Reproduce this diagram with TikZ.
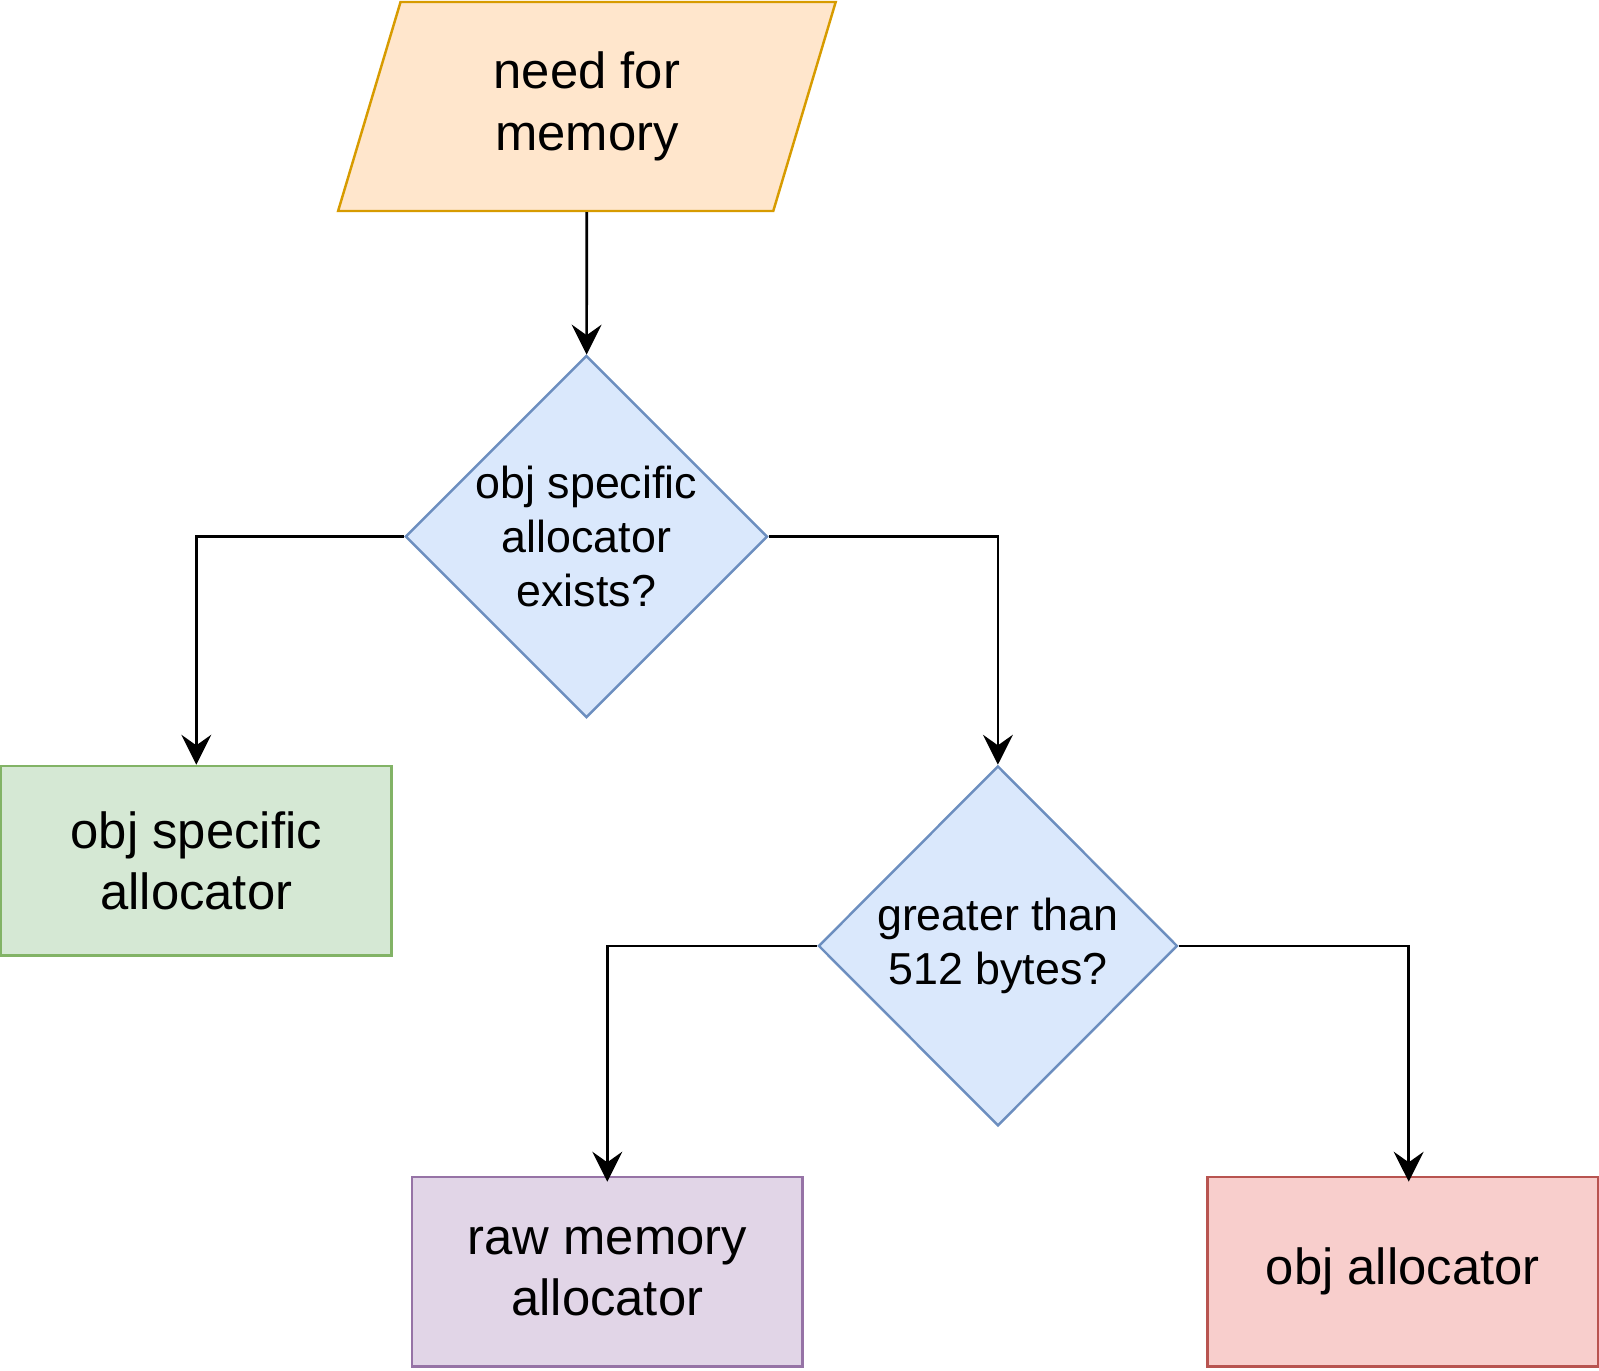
\documentclass[tikz,border=0pt]{standalone}
\usepackage{fontspec}
\setmainfont{Liberation Sans}
\usetikzlibrary{arrows.meta, shapes.geometric}

\definecolor{orangefill}{HTML}{FFE6CC}
\definecolor{orangeline}{HTML}{D79B00}
\definecolor{bluefill}{HTML}{DAE8FC}
\definecolor{blueline}{HTML}{6C8EBF}
\definecolor{greenfill}{HTML}{D5E8D4}
\definecolor{greenline}{HTML}{82B366}
\definecolor{purplefill}{HTML}{E1D5E7}
\definecolor{purpleline}{HTML}{9673A6}
\definecolor{redfill}{HTML}{F8CECC}
\definecolor{redline}{HTML}{B85450}

\tikzset{
  bigtext/.style={font=\fontsize{28.9}{35}\selectfont, align=center},
  smalltext/.style={font=\fontsize{25.5}{30.6}\selectfont, align=center},
  box/.style={draw, line width=1.4pt, rectangle, minimum width=390.6*0.02cm, minimum height=189.6*0.02cm, inner sep=0pt, bigtext},
  decision/.style={draw=blueline, fill=bluefill, line width=1.4pt, diamond, minimum width=359*0.02cm, minimum height=360*0.02cm, inner sep=0pt, smalltext},
  flow/.style={->, line width=1.5pt},
}

\begin{document}
\begin{tikzpicture}[x=0.02cm, y=-0.02cm, >={Stealth[length=17pt, width=17pt, inset=6pt]}]
    \useasboundingbox (0,0) rectangle (1599,1371);
    \node[trapezium, trapezium left angle=74, trapezium right angle=106, trapezium stretches=true,
          minimum width=498.6*0.02cm, minimum height=209*0.02cm, inner sep=0pt,
          draw=orangeline, fill=orangefill, line width=1.4pt, bigtext] (need) at (586.9,106.5) {need for\\memory};
    \node[decision] (exists) at (586.4,536.6) {obj specific\\allocator\\exists?};
    \node[box, draw=greenline, fill=greenfill] (objspec) at (196.3,860.7) {obj specific\\allocator};
    \node[decision] (greater) at (997.9,945.9) {greater than\\512 bytes?};
    \node[box, draw=purpleline, fill=purplefill] (raw) at (607.3,1271.7) {raw memory\\allocator};
    \node[box, draw=redline, fill=redfill] (objalloc) at (1402.7,1271.7) {obj allocator};

    \coordinate (objin) at ([xshift=0.12cm]objalloc.north);

    \draw[flow] (need) -- (exists);
    \draw[flow] (exists.west) -| (objspec.north);
    \draw[flow] (exists.east) -| (greater.north);
    \draw[flow, shorten >=-3.4pt] (greater.west) -| (raw.north);
    \draw[flow, shorten >=-3.4pt] (greater.east) -| (objin);
\end{tikzpicture}
\end{document}
